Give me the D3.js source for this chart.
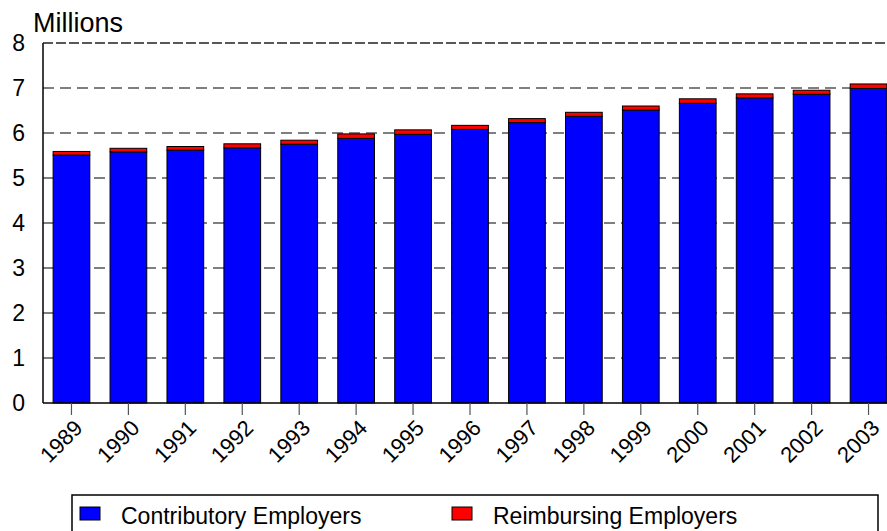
<!DOCTYPE html>
<html>
<head>
<meta charset="utf-8">
<script src="https://cdn.jsdelivr.net/npm/d3@7"></script>
<style>
  html, body { margin: 0; padding: 0; background: #fff; }
  svg { display: block; font-family: "Liberation Sans", Arial, sans-serif; }
</style>
</head>
<body>
<svg id="chart" width="887" height="531"></svg>
<script>
// Employers subject to state UI laws, in millions
const years = ["1989","1990","1991","1992","1993","1994","1995","1996","1997","1998","1999","2000","2001","2002","2003"];
const contributory = [5.51, 5.58, 5.62, 5.67, 5.75, 5.88, 5.97, 6.08, 6.23, 6.37, 6.51, 6.66, 6.78, 6.86, 6.99];
const reimbursing  = [0.08, 0.08, 0.08, 0.09, 0.09, 0.10, 0.10, 0.09, 0.09, 0.09, 0.09, 0.10, 0.09, 0.09, 0.10];
const yTicks = [0, 1, 2, 3, 4, 5, 6, 7, 8];
const seriesNames = ["Contributory Employers", "Reimbursing Employers"];
const seriesColors = ["#0000ff", "#ff0000"];

const svg = d3.select("#chart");
const plot = { left: 43, right: 897, top: 43, bottom: 403 };

const x = d3.scaleBand().domain(years).range([plot.left, plot.right]).paddingInner(0.355).paddingOuter(0.1775);
const y = d3.scaleLinear().domain([0, 8]).range([plot.bottom, plot.top]);

// dashed gridlines
svg.append("g").selectAll("line")
  .data(yTicks.filter(d => d > 0))
  .join("line")
  .attr("x1", plot.left).attr("x2", 887)
  .attr("y1", d => y(d)).attr("y2", d => y(d))
  .attr("stroke", d => d === 8 ? "#222" : "#555")
  .attr("stroke-width", d => d === 8 ? 1.6 : 1.3)
  .attr("stroke-dasharray", d => d === 8 ? "10,3" : "11,6");

// stacked bars
const rows = years.map((yr, i) => ({ year: yr, contributory: contributory[i], reimbursing: reimbursing[i] }));
const stack = d3.stack().keys(["contributory", "reimbursing"])(rows);

svg.append("g").selectAll("g")
  .data(stack)
  .join("g")
  .attr("fill", (d, i) => seriesColors[i])
  .selectAll("rect")
  .data(d => d)
  .join("rect")
  .attr("x", d => x(d.data.year))
  .attr("width", x.bandwidth())
  .attr("y", d => y(d[1]))
  .attr("height", d => y(d[0]) - y(d[1]))
  .attr("stroke", "#000")
  .attr("stroke-width", 1);

// y axis
const yAxis = svg.append("g");
yAxis.append("line")
  .attr("x1", plot.left).attr("x2", plot.left)
  .attr("y1", plot.top).attr("y2", plot.bottom)
  .attr("stroke", "#000").attr("stroke-width", 1.5);
yAxis.selectAll("text")
  .data(yTicks)
  .join("text")
  .attr("x", 25)
  .attr("y", d => y(d))
  .attr("dy", "0.36em")
  .attr("text-anchor", "end")
  .attr("font-size", 23)
  .attr("fill", "#000")
  .text(d => d);

svg.append("text")
  .attr("x", 33).attr("y", 32)
  .attr("font-size", 27)
  .attr("fill", "#000")
  .text("Millions");

// x axis
const xAxis = svg.append("g");
xAxis.append("line")
  .attr("x1", plot.left).attr("x2", 887)
  .attr("y1", plot.bottom).attr("y2", plot.bottom)
  .attr("stroke", "#000").attr("stroke-width", 1.5);
xAxis.selectAll("line.tick")
  .data(years)
  .join("line")
  .attr("class", "tick")
  .attr("x1", d => x(d) + x.bandwidth() / 2)
  .attr("x2", d => x(d) + x.bandwidth() / 2)
  .attr("y1", plot.bottom).attr("y2", plot.bottom + 12)
  .attr("stroke", "#555").attr("stroke-width", 1.2);
xAxis.selectAll("text")
  .data(years)
  .join("text")
  .attr("transform", d => `translate(${x(d) + x.bandwidth() / 2 + 7},${plot.bottom + 21}) rotate(-45)`)
  .attr("text-anchor", "end")
  .attr("dy", "0.35em")
  .attr("font-size", 22)
  .attr("fill", "#000")
  .text(d => d);

// legend
const legend = svg.append("g");
legend.append("rect")
  .attr("x", 72).attr("y", 495)
  .attr("width", 806).attr("height", 60)
  .attr("fill", "#fff").attr("stroke", "#000").attr("stroke-width", 1.5);
const legendX = [80, 452];
const items = legend.selectAll("g.item")
  .data(seriesNames)
  .join("g")
  .attr("class", "item")
  .attr("transform", (d, i) => `translate(${legendX[i]},507)`);
items.append("rect")
  .attr("width", 20).attr("height", 13)
  .attr("fill", (d, i) => seriesColors[i])
  .attr("stroke", "#000").attr("stroke-width", 1);
items.append("text")
  .attr("transform", "translate(41,17) scale(0.94,1)")
  .attr("font-size", 24.5)
  .attr("fill", "#000")
  .text(d => d);
</script>
</body>
</html>
